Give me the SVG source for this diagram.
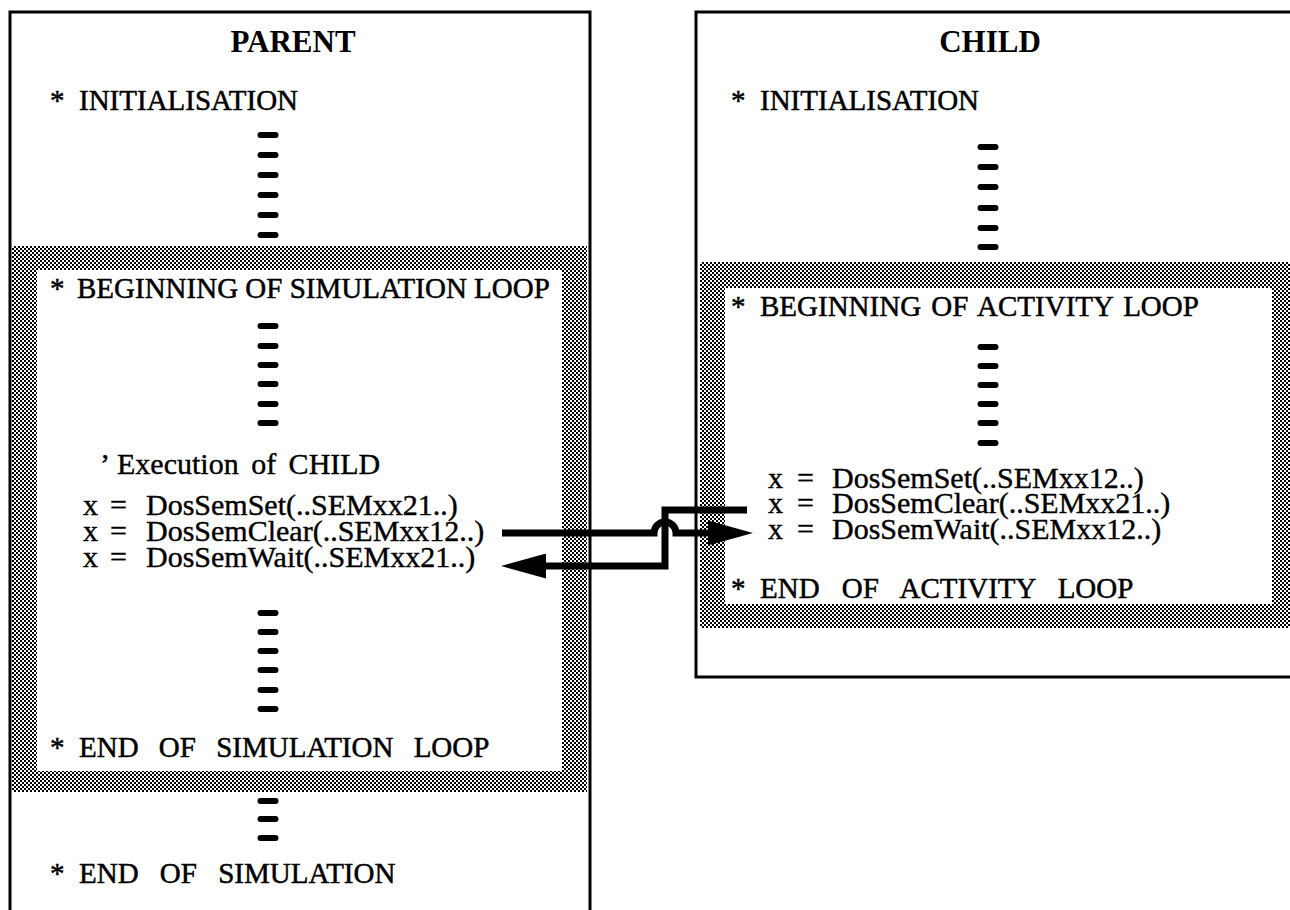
<svg xmlns="http://www.w3.org/2000/svg" width="1290" height="910" viewBox="0 0 1290 910">
<style>
  .frame { fill: none; stroke: #000; stroke-width: 3; }
  .title { font-family: "Liberation Serif", "Times New Roman", serif; font-weight: bold; font-size: 31px; fill: #000; text-anchor: middle; }
  .head { font-family: "Liberation Serif", "Times New Roman", serif; font-size: 29px; fill: #000; stroke: #000; stroke-width: 0.5px; }
  .code { font-family: "Liberation Serif", "Times New Roman", serif; font-size: 30px; fill: #000; stroke: #000; stroke-width: 0.4px; }
  .dash { fill: #000; }
  .white { fill: #fff; }
  .conn { fill: none; stroke: #000; stroke-width: 7; stroke-linejoin: miter; }
</style>
<defs>
  <pattern id="dither" width="4" height="4" patternUnits="userSpaceOnUse">
    <rect width="4" height="4" fill="#fff"/>
    <rect x="0" y="0" width="2" height="2" fill="#000"/>
    <rect x="2" y="2" width="2" height="2" fill="#000"/>
  </pattern>
  <marker id="arrow" viewBox="0 0 45 25" markerWidth="45" markerHeight="25" markerUnits="userSpaceOnUse" refX="4" refY="12.5" orient="auto">
    <path d="M0,0 L45,12.5 L0,25 Z" fill="#000"/>
  </marker>
  <rect id="d1" class="dash" x="-10.5" y="-3" width="21" height="6" rx="3"/>
</defs>
<rect width="1290" height="910" fill="#fff"/>

<g id="parent">
  <rect x="12" y="246" width="575" height="546" fill="url(#dither)"/>
  <rect class="white" x="37" y="270" width="525" height="501"/>
  <path class="frame" d="M10,910 V12 H590 V910"/>
  <text class="title" x="293" y="52">PARENT</text>
  <text class="head" y="110"><tspan x="50">*</tspan><tspan x="79">INITIALISATION</tspan></text>
  <g id="parent-dashes-1">
    <use href="#d1" x="268" y="135"/><use href="#d1" x="268" y="155"/><use href="#d1" x="268" y="175"/>
    <use href="#d1" x="268" y="195"/><use href="#d1" x="268" y="215"/><use href="#d1" x="268" y="235"/>
  </g>
  <g id="parent-loop">
    <text class="head" y="298"><tspan x="50">*</tspan><tspan x="77" word-spacing="0">BEGINNING OF SIMULATION LOOP</tspan></text>
    <use href="#d1" x="268" y="326"/><use href="#d1" x="268" y="346"/><use href="#d1" x="268" y="365"/>
    <use href="#d1" x="268" y="384"/><use href="#d1" x="268" y="404"/><use href="#d1" x="268" y="423"/>
    <text class="code" y="474"><tspan x="100">’</tspan><tspan x="117" word-spacing="5">Execution of CHILD</tspan></text>
    <text class="code" y="515"><tspan x="83">x</tspan><tspan x="110">=</tspan><tspan x="146">DosSemSet(..SEMxx21..)</tspan></text>
    <text class="code" y="541"><tspan x="83">x</tspan><tspan x="110">=</tspan><tspan x="146">DosSemClear(..SEMxx12..)</tspan></text>
    <text class="code" y="567"><tspan x="83">x</tspan><tspan x="110">=</tspan><tspan x="146">DosSemWait(..SEMxx21..)</tspan></text>
    <use href="#d1" x="268" y="613"/><use href="#d1" x="268" y="632"/><use href="#d1" x="268" y="651"/>
    <use href="#d1" x="268" y="670"/><use href="#d1" x="268" y="690"/><use href="#d1" x="268" y="709"/>
    <text class="head" y="757"><tspan x="50">*</tspan><tspan x="79" word-spacing="13">END OF SIMULATION LOOP</tspan></text>
  </g>
  <use href="#d1" x="268" y="801"/><use href="#d1" x="268" y="819"/><use href="#d1" x="268" y="838"/>
  <text class="head" y="883"><tspan x="50">*</tspan><tspan x="79" word-spacing="14">END OF SIMULATION</tspan></text>
</g>

<g id="child">
  <rect x="700" y="262" width="590" height="366" fill="url(#dither)"/>
  <rect class="white" x="725" y="288" width="547" height="316"/>
  <path class="frame" d="M1292,12 H696 V677 H1292"/>
  <text class="title" x="990" y="52">CHILD</text>
  <text class="head" y="110"><tspan x="731">*</tspan><tspan x="760">INITIALISATION</tspan></text>
  <use href="#d1" x="988" y="147"/><use href="#d1" x="988" y="167"/><use href="#d1" x="988" y="187"/>
  <use href="#d1" x="988" y="208"/><use href="#d1" x="988" y="228"/><use href="#d1" x="988" y="247"/>
  <g id="child-loop">
    <text class="head" y="316"><tspan x="731">*</tspan><tspan x="760" word-spacing="3">BEGINNING OF ACTIVITY LOOP</tspan></text>
    <use href="#d1" x="988" y="347"/><use href="#d1" x="988" y="366"/><use href="#d1" x="988" y="385"/>
    <use href="#d1" x="988" y="404"/><use href="#d1" x="988" y="423"/><use href="#d1" x="988" y="443"/>
    <text class="code" y="488"><tspan x="768">x</tspan><tspan x="797">=</tspan><tspan x="832">DosSemSet(..SEMxx12..)</tspan></text>
    <text class="code" y="513"><tspan x="768">x</tspan><tspan x="797">=</tspan><tspan x="832">DosSemClear(..SEMxx21..)</tspan></text>
    <text class="code" y="539"><tspan x="768">x</tspan><tspan x="797">=</tspan><tspan x="832">DosSemWait(..SEMxx12..)</tspan></text>
    <text class="head" y="598"><tspan x="731">*</tspan><tspan x="760" word-spacing="15">END OF ACTIVITY LOOP</tspan></text>
  </g>
</g>

<g id="connectors">
  <path class="conn" d="M502,533 H654 A11,11 0 0 1 676,533 H712" marker-end="url(#arrow)"/>
  <path class="conn" d="M747,510 H665 V566 H542" marker-end="url(#arrow)"/>
</g>
</svg>
